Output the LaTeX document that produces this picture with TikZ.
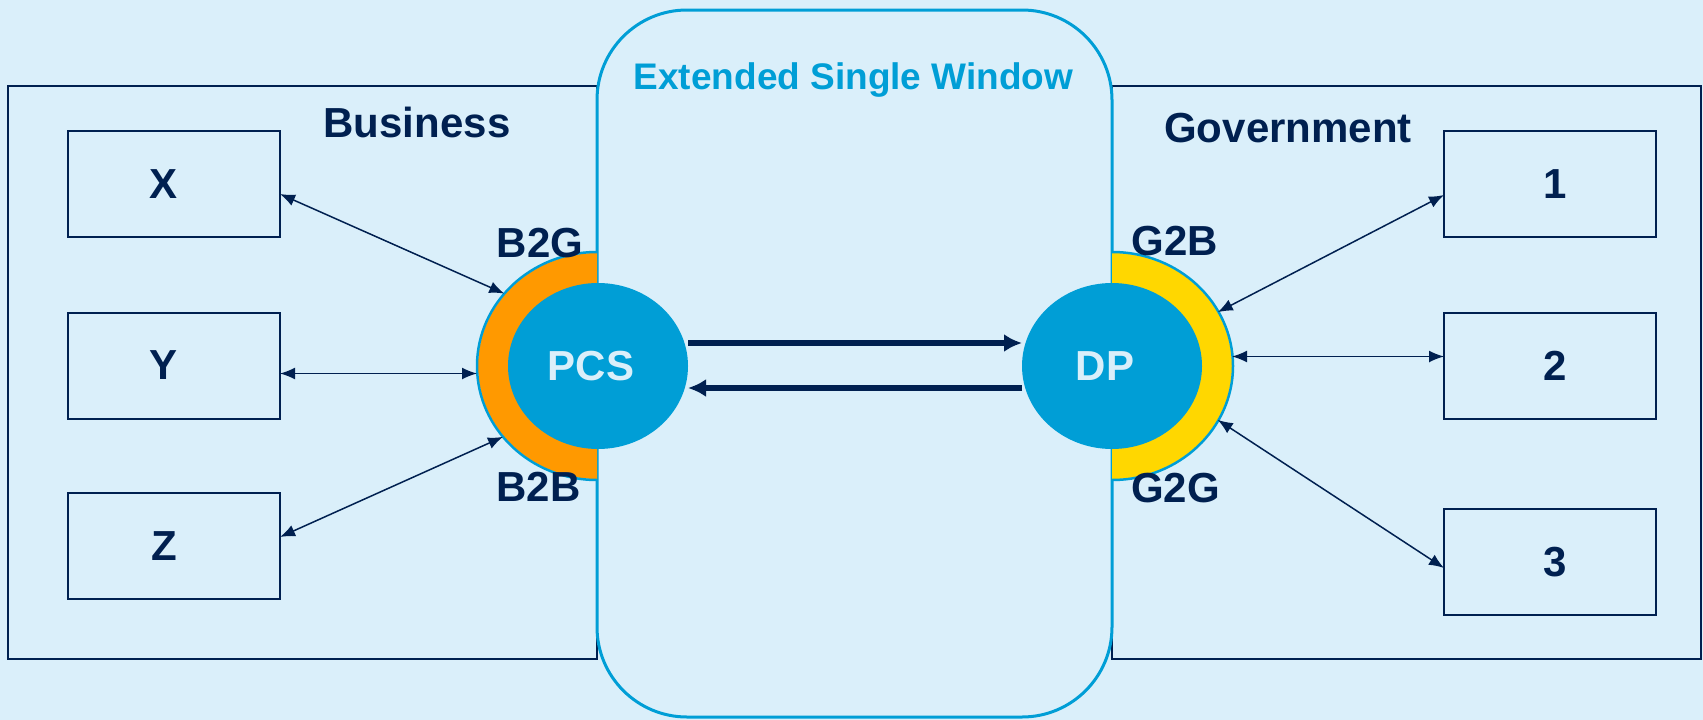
\documentclass[tikz,border=0pt]{standalone}
\usepackage{fontspec}
\setmainfont{Liberation Sans}
\usetikzlibrary{arrows.meta,shapes.geometric,calc}
\definecolor{bg}{RGB}{218,239,250}
\definecolor{navy}{RGB}{0,32,80}
\definecolor{eswblue}{RGB}{0,158,214}
\definecolor{orangec}{RGB}{255,153,0}
\definecolor{yellowc}{RGB}{255,215,0}
\begin{document}
\begin{tikzpicture}[x=1pt,y=-1pt,
  bigfont/.style={font=\fontsize{42}{50}\selectfont\bfseries},
  lbl/.style={bigfont, text=navy, inner sep=0pt, anchor=base},
  boxtext/.style={bigfont, text=navy, inner sep=0pt},
  hubtext/.style={bigfont, text=bg, inner sep=0pt},
  outerbox/.style={draw=navy, line width=1.5pt, minimum width=589pt, minimum height=573pt, inner sep=0pt, outer sep=0pt},
  partybox/.style={draw=navy, line width=2pt, minimum width=212pt, minimum height=106pt, inner sep=0pt, outer sep=0pt},
  eswbox/.style={draw=eswblue, fill=bg, line width=3pt, rounded corners=90pt, minimum width=515pt, minimum height=707pt, inner sep=0pt, outer sep=0pt},
  hub/.style={ellipse, fill=eswblue, minimum width=180pt, minimum height=166pt, inner sep=0pt, outer sep=0pt},
  ring/.style={ellipse, minimum width=240pt, minimum height=228pt, inner sep=0pt, outer sep=0pt},
  link/.style={draw=navy, line width=1.5pt, {Latex[length=15pt,width=12pt]}-{Latex[length=15pt,width=12pt]}},
  flow/.style={draw=navy, line width=5.5pt, -{Latex[length=18pt,width=18pt]}}
]
\fill[bg] (0,0) rectangle (1703,720);
\useasboundingbox (0,0) rectangle (1703,720);

% outer domain boxes
\node[outerbox] (bizbox) at (302.5,372.5) {};
\node[outerbox] (govbox) at (1406.5,372.5) {};

% extended single window
\node[eswbox] (esw) at (854.5,363.5) {};
\node[font=\fontsize{37}{44}\selectfont\bfseries, text=eswblue, inner sep=0pt, anchor=base] (title) at (853.5,89) {Extended Single Window};

% section titles
\node[lbl] (business) at (417,137) {Business};
\node[lbl] (government) at (1288,142) {Government};

% party boxes
\node[partybox] (X) at (174,184) {};
\node[partybox] (Y) at (174,365.5) {};
\node[partybox] (Z) at (174,546) {};
\node[partybox] (n1) at (1550,184) {};
\node[partybox] (n2) at (1550,365.5) {};
\node[partybox] (n3) at (1550,562) {};
\node[boxtext] (Xt) at (164,184) {X};
\node[boxtext] (Yt) at (164,365.5) {Y};
\node[boxtext] (Zt) at (164,546) {Z};
\node[boxtext] (n1t) at (1555,184) {1};
\node[boxtext] (n2t) at (1555,365.5) {2};
\node[boxtext] (n3t) at (1555,562) {3};

% half rings
\fill[orangec] (597,253) arc[start angle=90, end angle=270, x radius=119pt, y radius=113pt] -- cycle;
\draw[eswblue, line width=2.5pt] (597,252) arc[start angle=90, end angle=270, x radius=120pt, y radius=114pt];
\fill[yellowc] (1112,253) arc[start angle=90, end angle=-90, x radius=120pt, y radius=113pt] -- cycle;
\draw[eswblue, line width=2.5pt] (1112,252) arc[start angle=90, end angle=-90, x radius=121pt, y radius=114pt];
\node[ring] (pcsring) at (597,366) {};
\node[ring] (dpring) at (1112,366) {};

% hubs
\node[hub] (pcs) at (598,366) {};
\node[hub] (dp) at (1112,366) {};
\node[hubtext] (pcst) at (591,366) {PCS};
\node[hubtext] (dpt) at (1105,366) {DP};

% channel labels
\node[lbl] (b2g) at (540,257) {B2G};
\node[lbl] (b2b) at (538.5,501) {B2B};
\node[lbl] (g2b) at (1175,255) {G2B};
\node[lbl] (g2g) at (1175.5,502) {G2G};

% links
\draw[link] ([yshift=-10pt]X.east) -- (pcsring.142);
\coordinate (ya) at ([yshift=-8pt]Y.east);
\draw[link] (ya) -- (ya -| pcsring.west);
\draw[link] ([yshift=9pt]Z.east) -- (pcsring.217);
\draw[link] (dpring.27) -- ([yshift=-11pt]n1.west);
\coordinate (na) at ([yshift=9pt]n2.west);
\draw[link] (na -| dpring.east) -- (na);
\draw[link] (dpring.333) -- ([yshift=-6pt]n3.west);

% flows
\draw[flow] ([yshift=23pt]pcs.east) -- ([yshift=23pt]dp.west);
\draw[flow] ([yshift=-22pt]dp.west) -- ([yshift=-22pt]pcs.east);
\end{tikzpicture}
\end{document}
